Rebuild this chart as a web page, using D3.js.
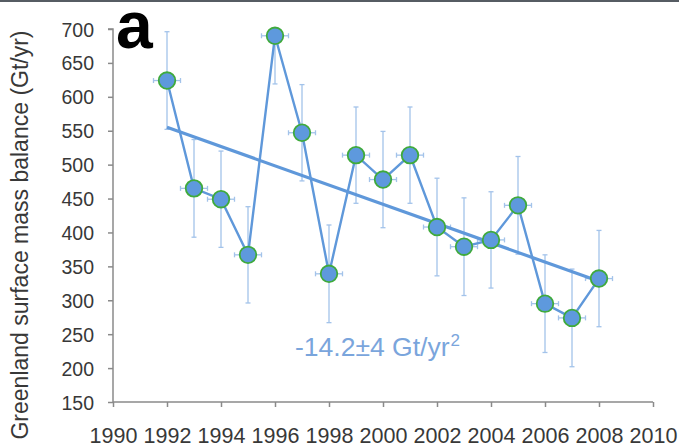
<!DOCTYPE html>
<html>
<head>
  <meta charset="utf-8">
  <title>Greenland surface mass balance</title>
  <style>
    body { margin: 0; background: #fff; }
    svg { display: block; font-family: "Liberation Sans", Arial, sans-serif; }
    .tick text { fill: #383838; }
  </style>
</head>
<body>
  <svg width="679" height="448"></svg>
  <script src="https://d3js.org/d3.v7.min.js"></script>
  <script>
    // 年份与表面物质平衡 (Gt/yr)
    const years = [1992, 1993, 1994, 1995, 1996, 1997, 1998, 1999, 2000,
                   2001, 2002, 2003, 2004, 2005, 2006, 2007, 2008];
    const smb = [624, 465, 449, 367, 690, 547, 339, 514, 478,
                 514, 408, 379, 389, 440, 295, 274, 332];
    const smbErr = [72, 72, 71, 71, 71, 71, 72, 71, 71,
                    71, 72, 72, 71, 72, 72, 72, 71];
    const yearErr = 0.5;
    // 线性趋势 -14.2 Gt/yr^2
    const trend = [[1992, 555], [2008, 328]];
    const xTicks = [1990, 1992, 1994, 1996, 1998, 2000, 2002, 2004, 2006, 2008, 2010];
    const yTicks = [150, 200, 250, 300, 350, 400, 450, 500, 550, 600, 650, 700];

    const pts = years.map((yr, i) => ({ year: yr, v: smb[i], e: smbErr[i] }));

    const svg = d3.select("svg");
    const margin = { top: 29, right: 26, bottom: 46, left: 113 };
    const W = 679, H = 448;

    const x = d3.scaleLinear().domain([1990, 2010]).range([margin.left, W - margin.right]);
    const y = d3.scaleLinear().domain([150, 700]).range([H - margin.bottom, margin.top]);

    // 顶部深色边
    svg.append("rect").attr("x", 0).attr("y", 0).attr("width", W).attr("height", 2)
      .attr("fill", "#565c63");

    svg.append("defs").append("clipPath").attr("id", "plot")
      .append("rect")
      .attr("x", margin.left).attr("y", margin.top - 2)
      .attr("width", W - margin.left - margin.right + 30)
      .attr("height", H - margin.top - margin.bottom + 2);

    // 坐标轴
    const yAxis = svg.append("g")
      .attr("transform", `translate(${margin.left},0)`)
      .call(d3.axisLeft(y).tickValues(yTicks).tickSize(5).tickPadding(14).tickFormat(d3.format("d")));
    yAxis.selectAll("text").attr("font-size", 19.5).attr("dy", "0.36em");

    const xAxis = svg.append("g")
      .attr("transform", `translate(0,${H - margin.bottom})`)
      .call(d3.axisBottom(x).tickValues(xTicks).tickSize(5).tickPadding(21).tickFormat(d3.format("d")));
    xAxis.selectAll("text").attr("font-size", 21.5);

    svg.selectAll(".domain, .tick line").attr("stroke", "#8a8a8a").attr("stroke-width", 1.5);
    yAxis.select(".domain").attr("d", `M-5,${margin.top}H0V${H - margin.bottom}`);
    xAxis.select(".domain").attr("d", `M${margin.left},0H${W - margin.right}`);

    // 误差棒
    const eb = svg.append("g").attr("clip-path", "url(#plot)")
      .attr("stroke", "#a3c3ea").attr("stroke-width", 1.3).attr("fill", "none");
    pts.forEach(d => {
      const cx = x(d.year);
      eb.append("line").attr("x1", cx).attr("x2", cx).attr("y1", y(d.v + d.e)).attr("y2", y(d.v - d.e));
      eb.append("line").attr("x1", cx - 2.5).attr("x2", cx + 2.5).attr("y1", y(d.v + d.e)).attr("y2", y(d.v + d.e));
      eb.append("line").attr("x1", cx - 2.5).attr("x2", cx + 2.5).attr("y1", y(d.v - d.e)).attr("y2", y(d.v - d.e));
      const x0 = x(d.year - yearErr), x1 = x(d.year + yearErr), cy = y(d.v);
      eb.append("line").attr("x1", x0).attr("x2", x1).attr("y1", cy).attr("y2", cy);
      eb.append("line").attr("x1", x0).attr("x2", x0).attr("y1", cy - 2.5).attr("y2", cy + 2.5);
      eb.append("line").attr("x1", x1).attr("x2", x1).attr("y1", cy - 2.5).attr("y2", cy + 2.5);
    });

    // 数据折线
    const line = d3.line().x(d => x(d.year)).y(d => y(d.v));
    svg.append("path").datum(pts)
      .attr("fill", "none").attr("stroke", "#5f98da").attr("stroke-width", 2.4)
      .attr("d", line);

    // 趋势线
    svg.append("path").datum(trend)
      .attr("fill", "none").attr("stroke", "#5f98da").attr("stroke-width", 3.2)
      .attr("d", d3.line().x(d => x(d[0])).y(d => y(d[1])));

    // 数据点
    svg.append("g").selectAll("circle").data(pts).enter().append("circle")
      .attr("cx", d => x(d.year)).attr("cy", d => y(d.v)).attr("r", 8.3)
      .attr("fill", "#5e99dd").attr("stroke", "#3faa3c").attr("stroke-width", 1.8);

    // 趋势标注
    const lbl = svg.append("text").attr("x", 295).attr("y", 356)
      .attr("font-size", 26.5).attr("fill", "#7aa5dc");
    lbl.append("tspan").text("-14.2±4 Gt/yr");
    lbl.append("tspan").attr("font-size", 17).attr("dx", 1).attr("dy", -10).text("2");

    // 面板字母
    svg.append("text").attr("x", 116).attr("y", 48)
      .attr("font-size", 66).attr("font-weight", "bold").attr("fill", "#000")
      .text("a");

    // y 轴标题
    svg.append("text")
      .attr("transform", `translate(28,235) rotate(-90)`)
      .attr("text-anchor", "middle").attr("font-size", 23).attr("fill", "#383838")
      .text("Greenland surface mass balance (Gt/yr)");
  </script>
</body>
</html>
